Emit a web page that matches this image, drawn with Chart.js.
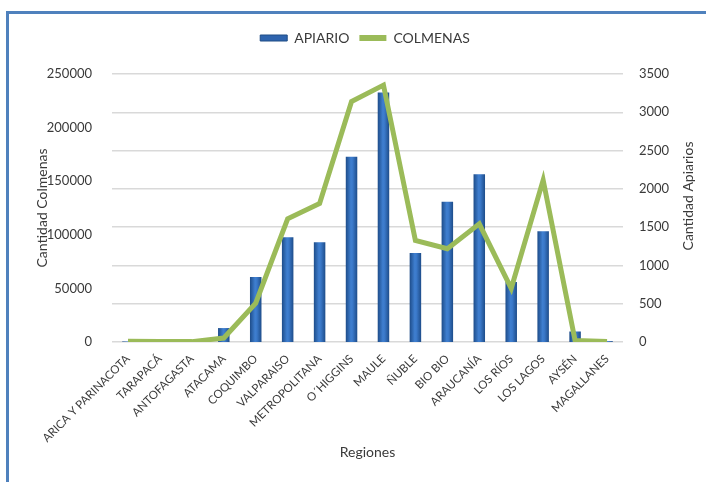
<!DOCTYPE html>
<html><head><meta charset="utf-8">
<script src="https://cdn.jsdelivr.net/npm/chart.js@4.4.1/dist/chart.umd.min.js"></script>
<style>
html,body{margin:0;padding:0;background:#fff;overflow:hidden;width:706px;height:482px}
#frame{position:absolute;left:6px;top:11px;width:760px;height:540px;border:3px solid #4F81BD;box-sizing:border-box}
#wrap{position:absolute;left:0;top:0;width:706px;height:482px}
</style></head><body>
<div id="frame"></div>
<div id="wrap"><canvas id="c" width="706" height="482"></canvas></div>
<script>
const regiones = ["ARICA Y PARINACOTA","TARAPACÁ","ANTOFAGASTA","ATACAMA","COQUIMBO","VALPARAISO","METROPOLITANA","O´HIGGINS","MAULE","ÑUBLE","BIO BIO","ARAUCANÍA","LOS RÍOS","LOS LAGOS","AYSÉN","MAGALLANES"];
const apiario = [500, 300, 300, 13000, 60700, 97800, 93100, 172800, 232700, 83000, 130800, 156500, 56000, 103300, 9800, 800];
const colmenas = [10, 5, 5, 52, 506, 1608, 1810, 3142, 3355, 1327, 1219, 1543, 700, 2114, 20, 5];
const leftMax = 250000, leftStep = 50000;
const rightMax = 3500, rightStep = 500;
const rightTitle = 'Cantidad Apiarios';

const FONT = "Lato, 'Open Sans', sans-serif";
const TXT = '#3A3A3A';

function barFill(ctx){
  const chart = ctx.chart;
  const xs = chart.scales && chart.scales.x;
  if (!xs || ctx.dataIndex === undefined || ctx.type !== 'data') return '#2E64AE';
  const cx = xs.getPixelForValue(ctx.dataIndex);
  const g = chart.ctx.createLinearGradient(cx - 6, 0, cx + 6, 0);
  g.addColorStop(0, '#1C4A86');
  g.addColorStop(0.45, '#3F7FD0');
  g.addColorStop(0.6, '#3A78C8');
  g.addColorStop(1, '#1C4A86');
  return g;
}

const rightTitlePlugin = {
  id: 'rightTitle',
  beforeInit(chart){
    const lg = chart.legend;
    if (lg) {
      const origFit = lg.fit;
      lg.fit = function(){ origFit.call(this); this.height += 19; };
    }
  },
  afterDraw(chart){
    const s = chart.scales.y1;
    const c = chart.ctx;
    c.save();
    c.translate(s.right - 12, (chart.chartArea.top + chart.chartArea.bottom) / 2 - 12);
    c.rotate(-Math.PI / 2);
    c.font = "14px " + FONT;
    c.fillStyle = TXT;
    c.textAlign = 'center';
    c.textBaseline = 'middle';
    c.fillText(rightTitle, 0, 0);
    c.restore();
  }
};

new Chart(document.getElementById('c'), {
  data: {
    labels: regiones,
    datasets: [
      { type: 'bar', label: 'APIARIO', data: apiario, yAxisID: 'y', order: 1,
        backgroundColor: barFill, borderColor: '#1F4C85', borderWidth: 0,
        barPercentage: 0.36, categoryPercentage: 1 },
      { type: 'line', label: 'COLMENAS', data: colmenas, yAxisID: 'y1', order: 0,
        borderColor: '#9BBB59', backgroundColor: '#9BBB59', borderWidth: 5,
        pointRadius: 0, tension: 0, borderJoinStyle: 'miter' }
    ]
  },
  plugins: [rightTitlePlugin],
  options: {
    responsive: false, animation: false, devicePixelRatio: 1,
    layout: { padding: { left: 30, right: 6, top: 21, bottom: 17 } },
    plugins: {
      tooltip: { enabled: false },
      legend: {
        position: 'top', align: 'center',
        labels: {
          font: { family: FONT, size: 14 }, color: TXT, boxWidth: 27, boxHeight: 6, padding: 10,
          generateLabels: (chart) => [
            { text: 'APIARIO', fillStyle: '#2E64AE', strokeStyle: '#1F4C85', lineWidth: 1, datasetIndex: 0, hidden: false, fontColor: TXT },
            { text: 'COLMENAS', fillStyle: '#9BBB59', strokeStyle: '#9BBB59', lineWidth: 0, datasetIndex: 1, hidden: false, fontColor: TXT }
          ]
        }
      }
    },
    scales: {
      x: {
        grid: { display: false }, border: { display: false },
        ticks: { font: { family: FONT, size: 11.5 }, color: TXT, minRotation: 45, maxRotation: 45, autoSkip: false, padding: 2 },
        title: { display: true, text: 'Regiones', font: { family: FONT, size: 14 }, color: TXT },
        afterFit: s => { s.height = 123; }
      },
      y: {
        position: 'left', min: 0, max: leftMax,
        grid: { display: false }, border: { display: false },
        ticks: { stepSize: leftStep, font: { family: FONT, size: 13 }, color: TXT, padding: 12, callback: v => String(v) },
        title: { display: true, text: 'Cantidad Colmenas', font: { family: FONT, size: 14 }, color: TXT },
        afterFit: s => { s.width = 82; }
      },
      y1: {
        position: 'right', min: 0, max: rightMax,
        grid: { color: '#D9D9D9', lineWidth: 1.5, drawTicks: false }, border: { display: false },
        ticks: { stepSize: rightStep, font: { family: FONT, size: 13 }, color: TXT, padding: 16, callback: v => String(v) },
        title: { display: false },
        afterFit: s => { s.width = 77; }
      }
    }
  }
});
</script>
</body></html>
